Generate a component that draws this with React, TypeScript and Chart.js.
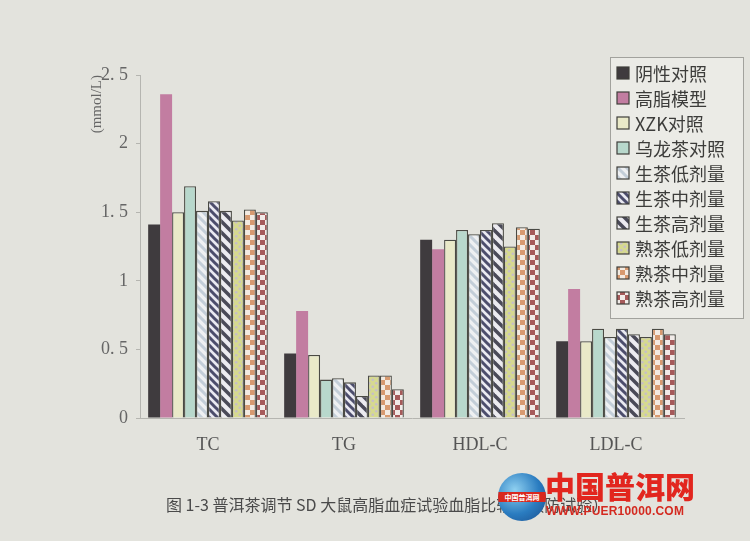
import React, { useEffect, useRef } from 'react';
import { Chart, registerables } from 'chart.js';

Chart.register(...registerables);

const categories = ['TC', 'TG', 'HDL-C', 'LDL-C'];
const seriesNames = ['阴性对照', '高脂模型', 'XZK对照', '乌龙茶对照', '生茶低剂量', '生茶中剂量', '生茶高剂量', '熟茶低剂量', '熟茶中剂量', '熟茶高剂量'];
const negativeControl = [1.41, 0.47, 1.30, 0.56];
const highFatModel = [2.36, 0.78, 1.23, 0.94];
const xzkControl = [1.50, 0.46, 1.30, 0.56];
const oolongControl = [1.69, 0.28, 1.37, 0.65];
const rawLow = [1.51, 0.29, 1.34, 0.59];
const rawMid = [1.58, 0.26, 1.37, 0.65];
const rawHigh = [1.51, 0.16, 1.42, 0.61];
const ripeLow = [1.44, 0.31, 1.25, 0.59];
const ripeMid = [1.52, 0.31, 1.39, 0.65];
const ripeHigh = [1.50, 0.21, 1.38, 0.61];
const seriesValues = [negativeControl, highFatModel, xzkControl, oolongControl, rawLow, rawMid, rawHigh, ripeLow, ripeMid, ripeHigh];
const yMax = 2.5;
const yStep = 0.5;
const yTitle = '(mmol/L)';
const caption = '图 1-3 普洱茶调节 SD 大鼠高脂血症试验血脂比较（预防试验）';

type Fill = string | CanvasPattern;

function makePattern(size: number, draw: (ctx: CanvasRenderingContext2D, s: number) => void): CanvasPattern {
  const c = document.createElement('canvas');
  c.width = size;
  c.height = size;
  const ctx = c.getContext('2d') as CanvasRenderingContext2D;
  draw(ctx, size);
  return ctx.createPattern(c, 'repeat') as CanvasPattern;
}

function stripes(bg: string, fg: string, size: number, width: number): CanvasPattern {
  return makePattern(size, (ctx, s) => {
    ctx.fillStyle = bg;
    ctx.fillRect(0, 0, s, s);
    ctx.strokeStyle = fg;
    ctx.lineWidth = width;
    ctx.lineCap = 'square';
    for (const x0 of [-s, 0, s]) {
      ctx.beginPath();
      ctx.moveTo(x0 - 1, -1);
      ctx.lineTo(x0 + s + 1, s + 1);
      ctx.stroke();
    }
  });
}

function checker(bg: string, fg: string, cell: number): CanvasPattern {
  return makePattern(cell * 2, (ctx, s) => {
    ctx.fillStyle = bg;
    ctx.fillRect(0, 0, s, s);
    ctx.fillStyle = fg;
    ctx.fillRect(0, 0, cell, cell);
    ctx.fillRect(cell, cell, cell, cell);
  });
}

function dots(bg: string, fg: string, size: number): CanvasPattern {
  return makePattern(size, (ctx, s) => {
    ctx.fillStyle = bg;
    ctx.fillRect(0, 0, s, s);
    ctx.fillStyle = fg;
    ctx.beginPath();
    ctx.arc(s / 4, s / 4, 1.3, 0, Math.PI * 2);
    ctx.fill();
    ctx.beginPath();
    ctx.arc((3 * s) / 4, (3 * s) / 4, 1.3, 0, Math.PI * 2);
    ctx.fill();
  });
}

const legendPlugin = {
  id: 'boxLegend',
  afterDraw(chart: any) {
    const ctx: CanvasRenderingContext2D = chart.ctx;
    ctx.save();
    const x = 610, y = 57, w = 133, h = 261;
    ctx.fillStyle = '#ebebe6';
    ctx.fillRect(x, y, w, h);
    ctx.strokeStyle = '#a2a29d';
    ctx.lineWidth = 1;
    ctx.strokeRect(x + 0.5, y + 0.5, w, h);
    chart.data.datasets.forEach((ds: any, i: number) => {
      const cy = 73 + i * 25;
      ctx.fillStyle = ds.backgroundColor;
      ctx.fillRect(617, cy - 6, 12, 12);
      ctx.strokeStyle = '#3e3e3a';
      ctx.lineWidth = 1.2;
      ctx.strokeRect(617, cy - 6, 12, 12);
      ctx.fillStyle = '#3c3c3a';
      ctx.font = '18px "Noto Sans CJK SC"';
      ctx.textBaseline = 'middle';
      ctx.textAlign = 'left';
      ctx.fillText(ds.label, 635, cy + 1);
    });
    ctx.restore();
  },
};

export default function App() {
  const ref = useRef<HTMLCanvasElement | null>(null);

  useEffect(() => {
    if (!ref.current) return;
    const fills: Fill[] = [
      '#3f3b3e',
      '#c27da1',
      '#e9e9c8',
      '#b8d8cc',
      stripes('#eef0f2', '#c3ced8', 9, 3),
      stripes('#e9e9f1', '#4c4d6c', 8, 3),
      stripes('#ecebf0', '#4a4a58', 11, 3.5),
      dots('#d6d990', '#c6bec9', 7),
      checker('#f3ebe2', '#d79a70', 5),
      checker('#f1ebe8', '#a65a5a', 5),
    ];
    const borders = ['#3f3b3e', '#c27da1', '#4a4a44', '#4a4a44', '#4a4a44', '#4a4a44', '#4a4a44', '#4a4a44', '#4a4a44', '#4a4a44'];
    const chart = new Chart(ref.current, {
      type: 'bar',
      data: {
        labels: categories,
        datasets: seriesNames.map((name, i) => ({
          label: name,
          data: seriesValues[i],
          backgroundColor: fills[i] as any,
          borderColor: borders[i],
          borderWidth: i < 2 ? 0 : 1.3,
          barPercentage: 1,
          categoryPercentage: 0.88,
        })),
      },
      options: {
        responsive: false,
        animation: false,
        layout: { padding: { top: 75, right: 66, left: 0, bottom: 0 } },
        plugins: {
          legend: { display: false },
          tooltip: { enabled: false },
        },
        scales: {
          x: {
            grid: { display: false, drawTicks: false },
            border: { display: true, color: '#b5b5b0', width: 1 },
            ticks: {
              padding: 16,
              color: '#555',
              font: { family: '"Liberation Serif", serif', size: 18 },
            },
            afterFit: (scale: any) => {
              scale.height = 541 - 418;
            },
          },
          y: {
            min: 0,
            max: yMax,
            ticks: {
              stepSize: yStep,
              padding: 8,
              color: '#666',
              font: { family: '"Liberation Serif", serif', size: 18 },
              callback: (v: any) => String(v).replace('.', '. '),
            },
            grid: { drawOnChartArea: false, tickLength: 4, color: '#b5b5b0' },
            border: { display: true, color: '#b5b5b0', width: 1 },
            title: {
              display: true,
              text: yTitle,
              align: 'end',
              color: '#666',
              font: { family: '"Liberation Serif", serif', size: 15 },
              padding: { top: 88, bottom: 0 },
            },
            afterFit: (scale: any) => {
              scale.width = 140;
            },
          },
        },
      },
      plugins: [legendPlugin],
    });
    return () => chart.destroy();
  }, []);

  return (
    <div style={{ position: 'fixed', left: 0, top: 0, width: 750, height: 541, background: '#e3e3dd', overflow: 'hidden' }}>
      <canvas ref={ref} width={750} height={541} style={{ display: 'block' }} />
      <div style={{ position: 'absolute', left: 166, top: 492, fontFamily: '"Noto Sans CJK SC"', fontSize: 16, color: '#4a4a4a', whiteSpace: 'nowrap' }}>
        {caption}
      </div>
      <div style={{ position: 'absolute', left: 498, top: 473, width: 48, height: 48, borderRadius: '50%', background: 'radial-gradient(circle at 35% 35%, #8fd0f0 0%, #2a7cc0 55%, #1a4d8c 100%)', overflow: 'hidden' }}>
        <div style={{ position: 'absolute', left: 0, top: 19, width: 48, height: 10, background: '#d8281e', color: '#fff', fontSize: 7, lineHeight: '10px', textAlign: 'center', fontFamily: '"Noto Sans CJK SC"', fontWeight: 700 }}>
          中国普洱网
        </div>
      </div>
      <div style={{ position: 'absolute', left: 545, top: 465, fontFamily: '"Noto Sans CJK SC"', fontWeight: 900, fontSize: 30, color: '#e2261e', whiteSpace: 'nowrap', lineHeight: '40px' }}>
        中国普洱网
      </div>
      <div style={{ position: 'absolute', left: 546, top: 504, fontFamily: '"Liberation Sans", Arial, sans-serif', fontWeight: 700, fontSize: 12, color: '#d42a20', whiteSpace: 'nowrap', letterSpacing: 0.2 }}>
        WWW.PUER10000.COM
      </div>
    </div>
  );
}
